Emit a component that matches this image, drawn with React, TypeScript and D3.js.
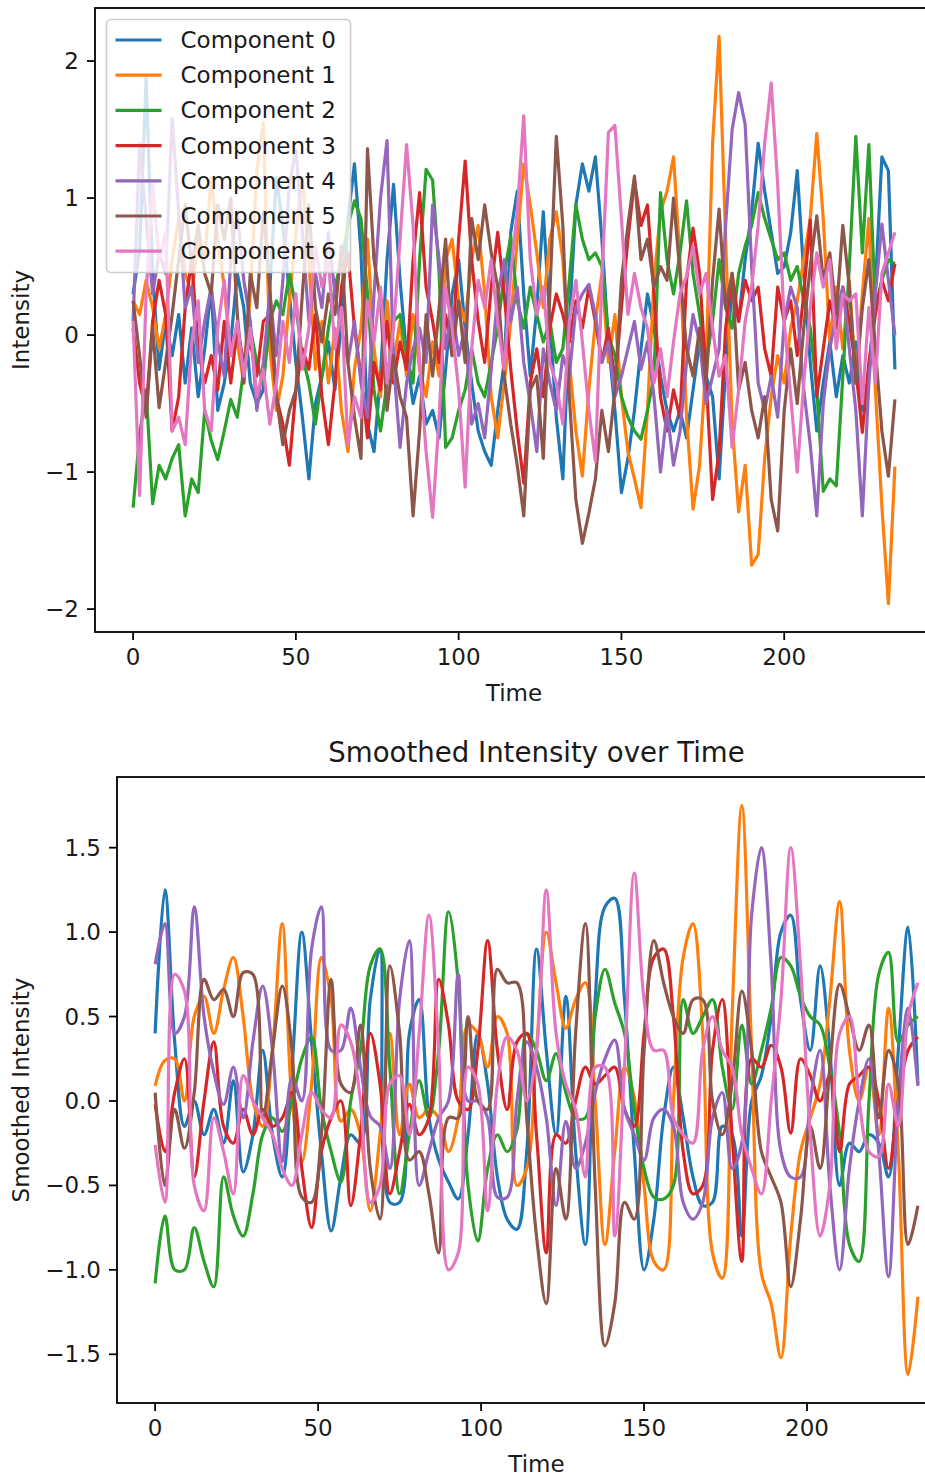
import React from "react";
import * as d3 from "d3";

// legend / series
const seriesNames = ["Component 0", "Component 1", "Component 2", "Component 3", "Component 4", "Component 5", "Component 6"];
const seriesColors = ["#1f77b4", "#ff7f0e", "#2ca02c", "#d62728", "#9467bd", "#8c564b", "#e377c2"];

// time grids (raw panel read every 2 steps, smoothed panel every 3 steps)
const rawTime = d3.range(0, 235, 2);
const smoothTime = d3.range(0, 235, 3);

// raw intensity
const rawC0 = [
  0.30, 0.62, 1.88, 0.45, -0.25, 0.10, -0.15, 0.15, -0.35, 0.05,
  -0.45, -0.10, 0.35, -0.55, -0.35, -0.05, 0.45, 0.20, -0.35, -0.50,
  -0.40, 0.35, 1.15, 0.80, 0.30, -0.20, -0.60, -1.05, -0.50, -0.30,
  -0.05, -0.40, 0.10, 0.85, 1.25, 0.60, -0.65, -0.85, -0.30, 0.55,
  1.10, 0.40, -0.15, -0.50, -0.30, -0.65, -0.55, -0.75, -0.25, 0.30,
  0.55, 0.05, -0.35, -0.70, -0.85, -0.95, -0.55, -0.20, 0.75, 1.05,
  0.30, -0.30, 0.20, 0.90, 0.10, -0.60, -1.05, 0.10, 0.95, 1.25,
  1.05, 1.30, 0.70, -0.05, -0.55, -1.15, -0.90, -0.55, -0.10, 0.30,
  0.05, -0.30, -0.55, -0.70, -0.55, -0.75, -0.40, -0.05, -0.30, -0.45,
  -1.05, -0.25, 0.35, 0.10, 0.55, 0.90, 1.40, 1.05, 0.75, 0.45,
  0.50, 0.75, 1.20, 0.45, -0.20, -0.70, -0.35, -0.05, -0.45, -0.15,
  -0.35, -0.05, -0.55, -0.30, 0.35, 1.30, 1.20, -0.25,
];
const rawC1 = [
  0.25, 0.15, 0.40, 0.20, -0.10, 0.15, 0.55, 0.85, 0.45, 0.30,
  0.70, 0.55, 1.15, 0.70, 0.35, -0.15, -0.05, -0.35, 0.30, 1.20,
  1.55, -0.10, -0.55, -0.30, 0.25, 0.75, 1.15, 0.55, -0.25, 0.10,
  -0.35, 0.05, -0.55, -0.85, -0.25, 0.05, 0.70, -0.10, -0.45, 0.25,
  -0.20, 0.10, -0.30, 0.15, -0.25, -0.45, -0.05, -0.30, 0.55, 0.70,
  0.25, 0.10, 0.55, 0.80, 0.30, -0.45, -0.75, -0.35, 0.10, 0.70,
  1.25, 0.95, 0.60, 0.20, 0.70, 0.90, 0.55, -0.20, -0.70, -1.03,
  -0.40, 0.10, 0.45, -0.20, 0.15, -0.45, -0.85, -1.05, -1.26, -0.55,
  0.40, 0.90, 1.05, 1.30, 0.55, -0.60, -1.27, -0.95, -0.20, 1.40,
  2.18, 0.70, -0.65, -1.29, -0.95, -1.68, -1.60, -0.90, -0.45, -0.15,
  -0.35, 0.05, 0.25, 0.55, 0.85, 1.47, 0.85, -0.05, 0.35, -0.10,
  0.40, -0.35, 0.30, 0.85, -0.40, -1.25, -1.96, -0.96,
];
const rawC2 = [
  -1.26, -0.73, -0.40, -1.23, -0.95, -1.05, -0.90, -0.80, -1.32, -1.05,
  -1.15, -0.55, -0.77, -0.91, -0.70, -0.47, -0.60, -0.25, 0.05, -0.20,
  -0.35, 0.10, 0.25, 0.15, 0.45, 0.20, -0.15, -0.35, -0.65, -0.30,
  0.05, 0.35, 0.55, 0.80, 0.98, 0.85, 0.30, -0.40, -0.70, -0.35,
  0.10, 0.15, -0.15, -0.35, 0.55, 1.21, 1.13, 0.45, -0.82, -0.75,
  -0.55, -0.40, -0.10, -0.35, -0.45, -0.20, 0.05, 0.45, 0.72, 0.25,
  0.05, 0.35, 0.15, -0.05, 0.10, -0.20, -0.10, 0.40, 0.95, 0.70,
  0.55, 0.60, 0.50, 0.00, -0.15, -0.45, -0.60, -0.70, -0.76, -0.55,
  -0.30, 1.04, 0.55, 0.30, 0.60, 0.98, 0.45, 0.15, -0.20, 0.10,
  0.55, 0.20, 0.05, 0.45, 0.65, 0.80, 1.04, 0.85, 0.70, 0.55,
  0.60, 0.40, 0.50, 0.25, 0.05, -0.40, -1.14, -1.05, -1.10, -0.30,
  0.50, 1.45, 0.60, 1.39, 0.20, 0.40, 0.55, 0.52,
];
const rawC3 = [
  0.05, -0.35, -0.55, 0.10, 0.40, 0.15, -0.70, -0.45, 0.20, 0.55,
  -0.10, -0.35, -0.15, -0.40, 0.10, -0.35, 0.05, -0.20, -0.05, -0.30,
  0.10, 0.15, -0.45, -0.65, -0.95, -0.40, -0.10, -0.25, 0.15, -0.45,
  -0.80, -0.35, 0.35, 0.60, 0.05, -0.30, -0.75, -0.20, -0.40, 0.10,
  -0.35, -0.05, -0.25, 0.55, 1.04, 0.35, 0.10, -0.20, 0.15, -0.15,
  0.70, 1.27, 0.55, 0.10, -0.20, 0.35, 0.75, 0.30, -0.25, -0.70,
  -1.08, -0.35, -0.10, -0.45, 0.05, 0.30, 0.15, -0.05, 0.25, 0.05,
  0.35, 0.10, -0.20, 0.05, -0.35, 0.20, 0.70, 1.13, 0.80, 0.95,
  0.30, -0.45, -0.70, -0.40, -0.60, 0.40, 0.78, 0.45, -0.30, -1.20,
  -0.85, 0.05, 0.45, 0.10, 0.40, 0.25, 0.35, -0.10, -0.30, 0.35,
  0.10, 0.25, -0.15, 0.30, 0.84, -0.45, -0.10, 0.25, 0.05, 0.35,
  0.10, -0.25, -0.71, -0.20, 0.15, 0.40, 0.25, 0.52,
];
const rawC4 = [
  0.10, 1.40, 0.85, 0.30, 0.60, 0.45, 1.58, 0.90, 0.20, 0.35,
  -0.20, 0.10, 0.35, -0.05, -0.30, 0.55, 0.90, 0.40, 0.10, -0.55,
  -0.20, 0.30, -0.15, 0.40, 1.10, 1.35, 0.75, 0.10, 0.45, 0.20,
  0.75, 0.30, 0.05, -0.20, 0.10, -0.35, -0.60, 0.30, 1.00, 1.42,
  -0.20, -0.82, -0.35, -0.10, 0.05, -0.20, 0.95, 0.55, -0.10, 0.20,
  -0.15, 0.05, -0.65, -0.50, -0.75, -0.25, 0.30, 0.55, 0.10, 0.35,
  -0.20, -0.50, -0.85, -0.10, -0.35, -0.55, -0.15, -0.30, 0.20, 0.30,
  0.37, 0.15, -0.20, -0.05, -0.45, -0.30, -0.10, 0.10, -0.25, -0.05,
  -0.45, -1.00, -0.55, -0.95, -0.70, -0.20, 0.15, -0.05, -0.50, -0.30,
  -0.10, 0.80, 1.50, 1.77, 1.54, 0.50, -0.35, -0.55, -0.30, -0.60,
  0.10, 0.35, 0.20, -0.40, -0.80, -1.32, -0.50, -0.10, 0.15, 0.35,
  -0.10, -0.55, -1.32, -0.35, 0.30, 0.81, 0.40, 0.00,
];
const rawC5 = [
  0.25, -0.15, -0.60, 0.05, -0.53, -0.20, 0.15, 0.55, 0.95, 0.50,
  0.80, 0.45, 0.30, 0.95, 0.70, 1.00, 0.15, -0.35, 0.45, 0.20,
  0.90, 0.35, -0.45, -0.80, -0.55, -0.40, 0.30, 0.95, 0.20, -0.05,
  0.30, 0.15, 0.65, -0.20, -0.60, -0.90, 1.36, 0.55, 0.25, -0.55,
  -0.15, -0.45, -0.60, -1.32, -0.70, 0.15, -0.30, 0.20, 0.70, -0.15,
  0.25, -0.20, 0.85, 0.55, 0.95, 0.60, 0.35, -0.30, -0.65, -0.95,
  -1.32, -0.40, -0.30, -0.90, 0.30, 1.45, 0.80, -0.45, -1.20, -1.52,
  -1.30, -1.05, -0.55, -0.85, -0.40, 0.40, 0.80, 1.16, 0.55, 0.70,
  0.35, 0.50, 0.40, 1.00, 0.45, -0.10, -0.30, 0.05, -0.35, 0.40,
  0.92, 0.20, 0.45, -0.40, -0.20, -0.55, -0.75, -0.45, -1.20, -1.43,
  -0.55, -0.10, -0.50, 0.05, 0.50, 0.87, 0.40, 0.60, 0.15, 0.80,
  0.35, -0.35, 0.20, 0.55, -0.10, -0.70, -1.03, -0.47,
];
const rawC6 = [
  0.10, -1.17, 0.30, 1.10, 0.55, 0.75, -0.70, -0.60, -0.80, -0.05,
  0.25, -0.55, -0.70, 0.05, 0.40, -0.15, 0.10, -0.30, 0.05, -0.45,
  -0.25, -0.65, -0.35, 0.10, -0.20, 0.30, -0.25, 0.05, 0.65, 0.35,
  0.55, -0.10, 0.20, -0.80, -0.45, -0.60, 0.25, -0.05, 0.35, -0.35,
  0.05, 0.70, 1.39, 0.80, -0.20, -0.85, -1.33, -0.60, 0.35, 0.05,
  -0.40, -1.11, -0.10, 0.40, 0.20, 0.55, 0.10, -0.25, 0.45, 0.90,
  1.60, 0.55, 0.15, 0.35, -0.20, -0.35, -0.65, 0.10, 0.40, -0.05,
  -0.55, -0.92, 0.40, 1.48, 1.53, 0.85, 0.15, 0.45, 0.20, 0.05,
  -0.35, -0.10, -0.45, -0.05, 0.30, 0.43, 0.65, 0.30, 0.45, 0.05,
  -0.30, -0.15, -0.82, -0.40, 0.10, 0.35, 0.80, 1.40, 1.84, 1.10,
  0.10, -0.45, -1.00, -0.35, 0.20, 0.60, 0.35, 0.55, -0.10, 0.30,
  0.25, 0.30, -0.50, 0.20, -0.35, 0.45, 0.60, 0.75,
];

// smoothed intensity
const smoothC0 = [
  0.40, 1.25, 0.35, -0.15, 0.00, -0.20, -0.05, -0.25, 0.12, -0.42,
  -0.20, 0.30, -0.20, -0.45, 0.20, 1.00, 0.35, -0.30, -0.77, -0.45,
  -0.20, -0.25, 0.60, 0.90, -0.60, -0.60, 0.40, 0.60, -0.10, -0.35,
  -0.48, -0.58, -0.20, 0.40, 0.10, -0.45, -0.70, -0.76, -0.30, 0.90,
  0.30, -0.20, 0.62, -0.30, -0.85, 0.60, 1.15, 1.20, 0.60, -0.30,
  -1.00, -0.70, -0.10, 0.20, -0.10, -0.45, -0.62, -0.60, -0.15, -0.20,
  -0.80, 0.00, 0.15, 0.50, 1.00, 1.10, 0.60, 0.30, 0.80, 0.30,
  -0.50, -0.25, -0.30, -0.20, -0.25, -0.45, 0.30, 1.03, 0.10,
];
const smoothC1 = [
  0.09, 0.24, 0.25, 0.00, 0.50, 0.62, 0.40, 0.66, 0.85, 0.50,
  0.00, -0.15, 0.30, 1.05, 0.00, -0.36, 0.10, 0.85, 0.60, -0.12,
  -0.05, -0.20, -0.65, -0.20, 0.40, -0.20, 0.10, -0.10, -0.05, -0.10,
  -0.30, -0.10, 0.45, 0.40, 0.20, 0.50, 0.40, -0.50, -0.40, 0.30,
  1.00, 0.70, 0.43, 0.60, 0.70, 0.00, -0.85, -0.30, 0.20, 0.02,
  -0.50, -0.95, -1.00, 0.00, 0.85, 1.05, 0.40, -0.90, -1.05, 0.50,
  1.75, 0.30, -1.02, -1.20, -1.52, -0.80, -0.30, -0.10, 0.10, 0.60,
  1.18, 0.30, 0.00, 0.20, -0.20, 0.55, -0.30, -1.62, -1.16,
];
const smoothC2 = [
  -1.08, -0.68, -1.00, -1.00, -0.75, -0.95, -1.10, -0.45, -0.68, -0.80,
  -0.55, -0.20, -0.10, -0.18, 0.00, 0.25, 0.38, -0.05, -0.30, -0.48,
  0.00, 0.30, 0.80, 0.90, 0.20, -0.55, -0.20, 0.12, -0.10, 0.30,
  1.12, 0.70, -0.50, -0.83, -0.40, -0.20, -0.30, -0.17, 0.40, 0.30,
  0.12, 0.28, 0.05, -0.10, -0.10, 0.50, 0.78, 0.58, 0.40, -0.05,
  -0.40, -0.57, -0.58, -0.50, 0.60, 0.40, 0.50, 0.60, 0.20, -0.05,
  0.45, 0.10, 0.30, 0.55, 0.85, 0.80, 0.62, 0.50, 0.45, 0.20,
  -0.20, -0.85, -0.95, 0.00, 0.75, 0.88, 0.35, 0.45, 0.50,
];
const smoothC3 = [
  -0.02, -0.30, 0.05, 0.25, -0.45, 0.00, 0.35, -0.15, -0.25, -0.05,
  -0.20, -0.05, -0.15, -0.10, 0.05, -0.40, -0.75, -0.30, -0.10, 0.00,
  -0.62, -0.20, 0.40, 0.10, -0.55, -0.30, -0.02, -0.20, -0.10, 0.72,
  0.45, 0.00, -0.05, 0.30, 0.95, 0.30, -0.05, 0.35, 0.40, -0.20,
  -0.90, -0.20, -0.25, 0.00, 0.20, 0.10, 0.15, 0.20, -0.05, -0.15,
  0.40, 0.85, 0.90, 0.50, -0.30, -0.55, -0.50, 0.30, 0.60, -0.20,
  -0.95, 0.25, 0.20, 0.33, 0.20, -0.19, 0.25, 0.15, 0.00, 0.15,
  -0.30, 0.10, 0.15, 0.20, 0.00, -0.40, 0.00, 0.30, 0.38,
];
const smoothC4 = [
  0.81, 1.05, 0.40, 0.50, 1.15, 0.50, 0.17, -0.02, 0.20, -0.10,
  0.35, 0.68, 0.30, -0.36, 0.14, 0.00, 0.90, 1.15, 0.30, 0.30,
  0.55, 0.20, -0.09, -0.15, -0.40, 0.60, 0.95, -0.50, -0.30, -0.10,
  0.00, 0.75, 0.00, 0.00, -0.10, -0.57, -0.57, 0.00, 0.35, 0.20,
  -0.10, -0.62, -0.12, -0.40, -0.25, 0.05, 0.25, 0.36, -0.05, -0.20,
  -0.35, -0.10, -0.05, -0.15, -0.60, -0.70, -0.60, -0.10, 0.05, -0.40,
  -0.25, 1.10, 1.50, 0.80, -0.30, -0.45, -0.45, 0.00, 0.30, -0.50,
  -1.00, -0.40, 0.00, 0.25, -0.30, -1.04, 0.00, 0.55, 0.09,
];
const smoothC5 = [
  0.05, -0.50, -0.05, -0.28, 0.05, 0.72, 0.60, 0.66, 0.50, 0.76,
  0.75, -0.10, 0.30, 0.68, 0.30, -0.57, -0.60, -0.20, 0.72, 0.10,
  0.05, 0.45, -0.40, -0.70, 0.80, 0.40, -0.35, -0.30, -0.55, -0.90,
  -0.10, -0.10, 0.50, 0.00, -0.05, 0.78, 0.70, 0.70, -0.10, -0.80,
  -1.20, -0.40, -0.70, 0.40, 1.05, -0.50, -1.45, -1.20, -0.60, -0.70,
  0.30, 0.95, 0.70, 0.50, 0.40, 0.60, 0.60, 0.00, -0.20, 0.10,
  0.65, 0.30, -0.30, -0.45, -0.60, -1.10, -0.70, -0.15, -0.40, 0.20,
  0.69, 0.50, 0.30, 0.45, -0.10, 0.30, 0.10, -0.85, -0.62,
];
const smoothC6 = [
  -0.26, -0.60, 0.75, 0.65, -0.50, -0.65, -0.10, -0.30, -0.55, 0.15,
  0.00, -0.10, -0.20, -0.40, -0.50, -0.20, 0.05, -0.05, -0.10, 0.45,
  0.35, 0.00, -0.60, -0.50, 0.10, 0.15, -0.20, 0.40, 1.10, 0.30,
  -1.00, -0.90, 0.20, 0.10, -0.65, 0.10, 0.38, 0.30, 0.00, 0.30,
  1.25, 0.40, 0.10, -0.05, -0.45, 0.20, 0.20, -0.80, 0.20, 1.35,
  0.60, 0.30, 0.30, -0.10, -0.20, -0.25, 0.30, 0.50, 0.30, 0.20,
  -0.20, -0.40, -0.55, 0.00, 0.60, 1.50, 0.80, -0.20, -0.80, -0.50,
  0.40, 0.50, 0.00, -0.30, -0.33, 0.10, -0.15, 0.50, 0.70,
];

const xTicks = [0, 50, 100, 150, 200];
const yTicksRaw = [-2, -1, 0, 1, 2];
const yTicksSmooth = [-1.5, -1.0, -0.5, 0.0, 0.5, 1.0, 1.5];

const FONT = "'DejaVu Sans', sans-serif";
const TXT = "#1a1a1a";

// matplotlib style tick text with a real minus sign
function tickText(v: number, digits: number) {
  const s = Math.abs(v).toFixed(digits);
  return v < 0 ? "\u2212" + s : s;
}

type PanelProps = {
  id: string;
  left: number;
  top: number;
  right: number;
  bottom: number;
  time: number[];
  series: number[][];
  yTicks: number[];
  digits: number;
  smooth: boolean;
  yLabel: string;
  title?: string;
  legend?: boolean;
};

function Panel(p: PanelProps) {
  // 5% margins like matplotlib autoscale
  const [xmin, xmax] = d3.extent(p.time) as [number, number];
  const [ymin, ymax] = d3.extent(p.series.flat()) as [number, number];
  const mx = (xmax - xmin) * 0.05;
  const my = (ymax - ymin) * 0.05;

  const x = d3.scaleLinear().domain([xmin - mx, xmax + mx]).range([p.left, p.right]);
  const y = d3.scaleLinear().domain([ymin - my, ymax + my]).range([p.bottom, p.top]);

  const line = d3
    .line<number>()
    .x((_, i) => x(p.time[i]))
    .y((d) => y(d))
    .curve(p.smooth ? d3.curveCatmullRom.alpha(0.5) : d3.curveLinear);

  const tickLen = 8;
  const spineW = 1.8;
  const midX = (p.left + p.right) / 2;
  const midY = (p.top + p.bottom) / 2;

  return (
    <g>
      <defs>
        <clipPath id={p.id}>
          <rect x={p.left} y={p.top} width={p.right - p.left} height={p.bottom - p.top} />
        </clipPath>
      </defs>

      <g clipPath={`url(#${p.id})`}>
        {p.series.map((s, i) => (
          <path
            key={i}
            d={line(s) || ""}
            fill="none"
            stroke={seriesColors[i]}
            strokeWidth={3.2}
            strokeLinejoin="round"
          />
        ))}
      </g>

      {/* spines */}
      <rect
        x={p.left}
        y={p.top}
        width={p.right - p.left}
        height={p.bottom - p.top}
        fill="none"
        stroke="#000"
        strokeWidth={spineW}
      />

      {/* x axis */}
      {xTicks.map((t) => (
        <g key={t}>
          <line x1={x(t)} x2={x(t)} y1={p.bottom} y2={p.bottom + tickLen} stroke="#000" strokeWidth={spineW} />
          <text
            x={x(t)}
            y={p.bottom + 33}
            textAnchor="middle"
            fontFamily={FONT}
            fontSize={23}
            fill={TXT}
          >
            {tickText(t, 0)}
          </text>
        </g>
      ))}
      <text x={midX} y={p.bottom + 69} textAnchor="middle" fontFamily={FONT} fontSize={23} fill={TXT}>
        Time
      </text>

      {/* y axis */}
      {p.yTicks.map((t) => (
        <g key={t}>
          <line x1={p.left - tickLen} x2={p.left} y1={y(t)} y2={y(t)} stroke="#000" strokeWidth={spineW} />
          <text
            x={p.left - 16}
            y={y(t) + 8}
            textAnchor="end"
            fontFamily={FONT}
            fontSize={23}
            fill={TXT}
          >
            {tickText(t, p.digits)}
          </text>
        </g>
      ))}
      <text
        transform={`translate(29,${midY}) rotate(-90)`}
        textAnchor="middle"
        fontFamily={FONT}
        fontSize={23}
        fill={TXT}
      >
        {p.yLabel}
      </text>

      {p.title && (
        <text x={midX} y={p.top - 15} textAnchor="middle" fontFamily={FONT} fontSize={27.6} fill={TXT}>
          {p.title}
        </text>
      )}

      {p.legend && (
        <g>
          <rect
            x={p.left + 11.5}
            y={p.top + 11.5}
            width={244}
            height={253}
            rx={4.6}
            fill="#fff"
            fillOpacity={0.8}
            stroke="#cccccc"
            strokeWidth={1.6}
          />
          {seriesNames.map((name, i) => {
            const cy = p.top + 32 + i * 35.2;
            return (
              <g key={name}>
                <line
                  x1={p.left + 20.5}
                  x2={p.left + 66.5}
                  y1={cy}
                  y2={cy}
                  stroke={seriesColors[i]}
                  strokeWidth={3.2}
                />
                <text x={p.left + 85.5} y={cy + 8} fontFamily={FONT} fontSize={23} fill={TXT}>
                  {name}
                </text>
              </g>
            );
          })}
        </g>
      )}
    </g>
  );
}

export default function App() {
  const rawSeries = [rawC0, rawC1, rawC2, rawC3, rawC4, rawC5, rawC6];
  const smoothSeries = [smoothC0, smoothC1, smoothC2, smoothC3, smoothC4, smoothC5, smoothC6];

  return (
    <svg
      width={925}
      height={1480}
      style={{ position: "absolute", left: 0, top: 0, display: "block", background: "#fff" }}
    >
      <rect width={925} height={1480} fill="#fff" />
      <Panel
        id="clip-raw"
        left={95}
        top={8}
        right={933}
        bottom={632}
        time={rawTime}
        series={rawSeries}
        yTicks={yTicksRaw}
        digits={0}
        smooth={false}
        yLabel="Intensity"
        legend
      />
      <Panel
        id="clip-smooth"
        left={117}
        top={777}
        right={956}
        bottom={1403}
        time={smoothTime}
        series={smoothSeries}
        yTicks={yTicksSmooth}
        digits={1}
        smooth={true}
        yLabel="Smoothed Intensity"
        title="Smoothed Intensity over Time"
      />
    </svg>
  );
}
